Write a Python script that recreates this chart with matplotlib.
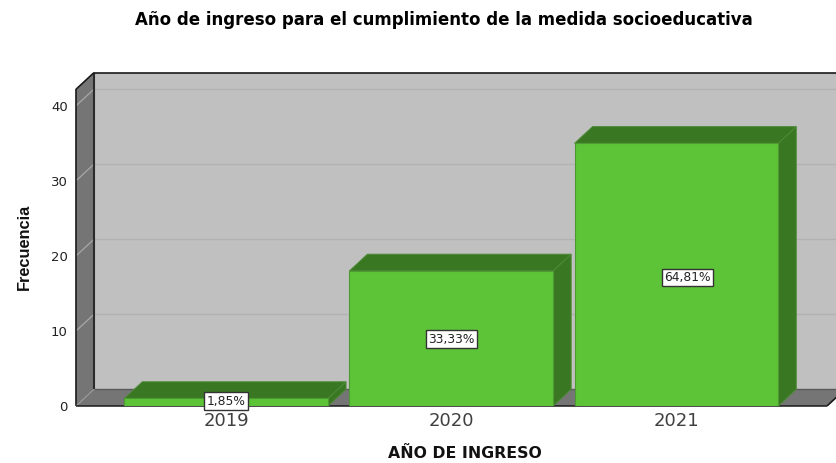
import matplotlib
matplotlib.use("Agg")
import matplotlib.pyplot as plt
from matplotlib.patches import Polygon

categories = ["2019", "2020", "2021"]
values = [1, 18, 35]
labels = ["1,85%", "33,33%", "64,81%"]
yticks = [0, 10, 20, 30, 40]

W, H = 836, 463
wall = "#c0c0c0"
side = "#757575"
green = "#5dc438"
dark_green = "#3a7723"

fig = plt.figure(figsize=(W / 100, H / 100), dpi=100)
# front plane of the 3d box, in pixels
left, right, bottom, top = 76, 827, 406, 89.3
ax = fig.add_axes([left / W, 1 - bottom / H, (right - left) / W, (bottom - top) / H])
ax.set_xlim(-0.667, 2.669)
ax.set_ylim(0, 42.2)
ax.patch.set_visible(False)
for s in ax.spines.values():
    s.set_visible(False)

dx = 18 / 225
dy = 16.7 / 7.5
x0, x1 = ax.get_xlim()
y1 = ax.get_ylim()[1]
x_end = x1 + 2 * dx


def poly(pts, fc, ec="none", lw=0, z=1):
    ax.add_patch(Polygon(pts, closed=True, facecolor=fc, edgecolor=ec, linewidth=lw,
                         zorder=z, clip_on=False))


def line(xs, ys, c, lw, z=2):
    ax.plot(xs, ys, color=c, linewidth=lw, zorder=z, clip_on=False, solid_capstyle="butt")


# walls and floor
poly([(x0 + dx, dy), (x_end, dy), (x_end, y1 + dy), (x0 + dx, y1 + dy)], wall)
poly([(x0, 0), (x0 + dx, dy), (x0 + dx, y1 + dy), (x0, y1)], side)
poly([(x0, 0), (x1, 0), (x1 + dx, dy), (x_end, dy), (x0 + dx, dy)], side)

for t in yticks[1:]:
    line([x0, x0 + dx], [t, t + dy], "#a8a8a8", 0.9)
    line([x0 + dx, x_end], [t + dy, t + dy], "#b2b2b2", 1)

line([x0 + dx, x0 + dx], [dy, y1 + dy], "#2b2b2b", 1.5, 3)
line([x0 + dx, x_end], [y1 + dy, y1 + dy], "#1a1a1a", 1.2, 3)
line([x0, x0 + dx], [y1, y1 + dy], "#1a1a1a", 1.2, 3)
line([x0, x0], [0, y1], "#1a1a1a", 1.2, 3)
line([x0 + dx, x_end], [dy, dy], "#5a5a5a", 1, 3)
line([x0, x0 + dx], [0, dy], "#9a9a9a", 0.8, 3)
line([x0, x1], [0, 0], "#1a1a1a", 1.1, 3)
line([x1, x1 + dx], [0, dy], "#1a1a1a", 1.2, 3)

# bars
bw = 0.905
for i, v in enumerate(values):
    a, b = i - bw / 2, i + bw / 2
    poly([(a, v), (b, v), (b + dx, v + dy), (a + dx, v + dy)], dark_green, "#4d8a36", 0.7, 4)
    poly([(b, 0), (b + dx, dy), (b + dx, v + dy), (b, v)], dark_green, "#4d8a36", 0.7, 4)
ax.bar(range(3), values, width=bw, color=green, edgecolor="#4d9a32", linewidth=0.8, zorder=5)

# value labels (2021 sits a bit right of its bar in the original)
offsets = [(0, 0.7), (0, -0.7), (8, -2)]
for i, v in enumerate(values):
    ax.annotate(labels[i], (i, v / 2), xytext=offsets[i], textcoords="offset points",
                ha="center", va="center", fontsize=8.8, color="#222222", zorder=6,
                annotation_clip=False,
                bbox=dict(boxstyle="square,pad=0.2", fc="white", ec="#333333", lw=1))

ax.set_xticks(range(3), categories)
ax.set_yticks(yticks)
ax.tick_params(axis="both", length=0)
ax.tick_params(axis="x", labelsize=13, labelcolor="#404040", pad=4)
ax.tick_params(axis="y", labelsize=9.5, labelcolor="#222222", pad=6)

fig.text(444 / W, 1 - 20 / H, "Año de ingreso para el cumplimiento de la medida socioeducativa",
         ha="center", va="center", fontsize=12, fontweight="bold", color="black")
fig.text(465 / W, 1 - 454 / H, "AÑO DE INGRESO", ha="center", va="center",
         fontsize=11.3, fontweight="bold", color="#111111")
fig.text(24 / W, 1 - 247 / H, "Frecuencia", rotation=90, ha="center", va="center",
         fontsize=11.8, fontweight="bold", color="#111111", family="Liberation Sans")

fig.savefig("out.png", dpi=100)
